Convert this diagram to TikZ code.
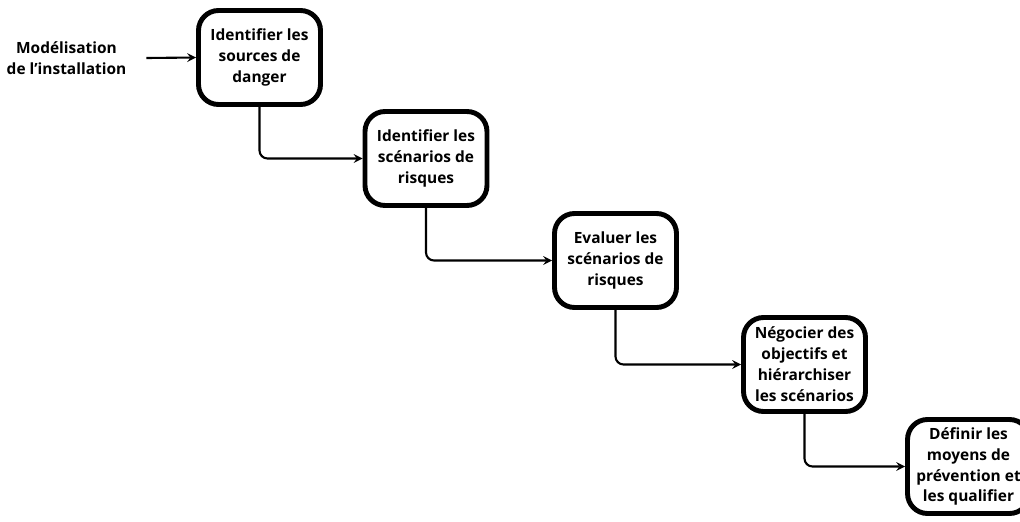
\documentclass[tikz,border=0pt]{standalone}
\usepackage{fontspec}
\setmainfont{Open Sans}
\usepackage{tikz}
\usetikzlibrary{calc}
\usetikzlibrary{arrows,shapes, positioning}
\tikzset{>=stealth}
\tikzset{stepbox/.style={draw,line width=2.8pt,rounded corners=0.4cm,align=center,
    minimum width=2.44cm,minimum height=1.88cm,inner sep=1pt,
    font=\fontsize{8.8}{11.9}\selectfont\bfseries}}
\tikzset{link/.style={->,line width=1.2pt,rounded corners=0.16cm}}

\begin{document}
\begin{tikzpicture} [x=0.02cm,y=-0.02cm]
          \useasboundingbox (0,0) rectangle (1020,521);
          \node [align=center,font=\fontsize{8.8}{11.9}\selectfont\bfseries] (input) at (66.5,58) {Modélisation\\de l'installation};
          \node [stepbox] (sources) at (259.5,57.5) {Identifier les\\sources de\\danger};
          \node [stepbox] (ident) at (426,158.5) {Identifier les\\scénarios de\\risques};
          \node [stepbox] (eval) at (615.5,260.5) {Evaluer les\\scénarios de\\risques};
          \node [stepbox] (nego) at (804.5,364.5) {Négocier des\\objectifs et\\hiérarchiser\\les scénarios};
          \node [stepbox] (moyens) at (968.5,466.5) {Définir les\\moyens de\\prévention et\\les qualifier};
          \coordinate (start) at ($(input.east)+(14,0)$);
          \draw [link] (start) -- (sources.west);
          \draw [link] (sources.south) |- (ident.west);
          \draw [link] (ident.south) |- (eval.west);
          \draw [link] (eval.south) |- (nego.west);
          \draw [link] (nego.south) |- (moyens.west);
        \end{tikzpicture}
\end{document}
